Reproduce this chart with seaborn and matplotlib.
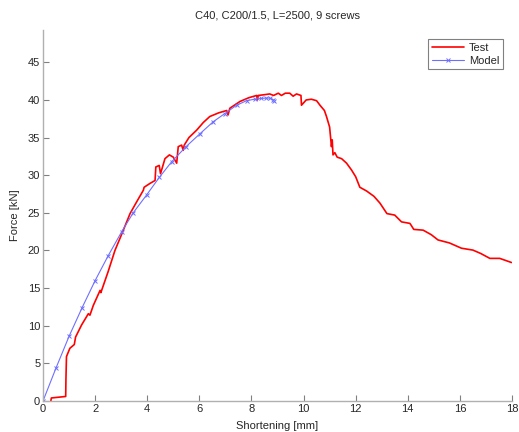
import numpy as np
import pandas as pd
import matplotlib
matplotlib.use("Agg")
import matplotlib.pyplot as plt
import seaborn as sns

# test curve (shortening mm, force kN)
test_x = [0.30, 0.32, 0.87, 0.88, 0.90, 1.03, 1.20, 1.25, 1.48, 1.74, 1.80, 1.93,
          2.19, 2.22, 2.50, 2.76, 3.00, 3.34, 3.60, 3.85, 3.88, 4.10, 4.30, 4.33,
          4.46, 4.51, 4.68, 4.85, 5.00, 5.13, 5.19, 5.32, 5.38, 5.42, 5.60, 5.90,
          6.15, 6.40, 6.75, 7.05, 7.10, 7.17, 7.56, 7.90, 8.20, 8.23, 8.26, 8.50,
          8.70, 8.85, 9.03, 9.15, 9.30, 9.47, 9.60, 9.73, 9.90, 9.92, 10.10, 10.30,
          10.50, 10.63, 10.80, 10.88, 11.00, 11.07, 11.10, 11.13, 11.20, 11.29,
          11.46, 11.65, 11.84, 12.00, 12.16, 12.42, 12.70, 12.93, 13.20, 13.50,
          13.76, 14.08, 14.12, 14.23, 14.59, 14.90, 15.16, 15.60, 16.06, 16.50,
          16.80, 17.15, 17.53, 17.98]
test_y = [0.0, 0.40, 0.60, 3.0, 5.90, 7.00, 7.50, 8.50, 10.10, 11.60, 11.40, 12.70,
          14.70, 14.40, 17.20, 20.00, 22.00, 24.90, 26.50, 28.00, 28.40, 28.90, 29.30,
          31.10, 31.30, 30.20, 32.20, 32.70, 32.40, 31.60, 33.80, 34.00, 33.30, 34.00,
          35.00, 36.00, 37.00, 37.80, 38.30, 38.60, 38.00, 38.90, 39.80, 40.30, 40.60,
          40.00, 40.60, 40.70, 40.80, 40.60, 40.90, 40.60, 40.90, 40.90, 40.50, 40.80,
          40.60, 39.30, 40.00, 40.10, 39.90, 39.30, 38.60, 37.80, 36.40, 33.80, 34.70,
          32.70, 33.00, 32.40, 32.20, 31.60, 30.70, 29.80, 28.40, 27.90, 27.20, 26.30,
          24.90, 24.70, 23.80, 23.60, 23.40, 22.80, 22.70, 22.10, 21.40, 21.00, 20.30,
          20.05, 19.60, 18.95, 18.95, 18.40]

# model curve
model_x = [0.0, 0.50, 1.00, 1.50, 2.00, 2.50, 3.02, 3.46, 3.98, 4.46, 4.94, 5.49,
           6.02, 6.53, 6.98, 7.43, 7.81, 8.12, 8.38, 8.55, 8.70, 8.83, 8.85]
model_y = [0.0, 4.40, 8.60, 12.40, 16.00, 19.30, 22.50, 25.00, 27.40, 29.70, 31.80,
           33.80, 35.50, 37.10, 38.20, 39.30, 39.90, 40.10, 40.20, 40.25, 40.25,
           40.05, 39.90]

test_df = pd.DataFrame({"x": test_x, "y": test_y})
model_df = pd.DataFrame({"x": model_x, "y": model_y})

sns.set_style("white")
plt.rcParams['font.family'] = ['Liberation Sans', 'DejaVu Sans']

fig = plt.figure(figsize=(5.19, 4.32), dpi=100)
ax = fig.add_axes([0.0829, 0.0718, 0.9036, 0.8588])

blue = "#6f6fff"
sns.lineplot(data=test_df, x="x", y="y", sort=False, estimator=None,
             color="#ff0000", linewidth=1.2, label="Test", ax=ax)
sns.lineplot(data=model_df, x="x", y="y", sort=False, estimator=None,
             color=blue, linewidth=0.8, marker="x", markersize=3.3,
             markeredgewidth=0.7, markeredgecolor=blue, label="Model", ax=ax)

ax.set_xlim(0, 18)
ax.set_ylim(0, 49.3)
ax.set_xticks(np.arange(0, 19, 2))
ax.set_yticks(np.arange(0, 46, 5))
ax.set_xlabel("Shortening [mm]", fontsize=8, labelpad=5)
ax.set_ylabel("Force [kN]", fontsize=8, labelpad=6)
ax.set_title("C40, C200/1.5, L=2500, 9 screws", fontsize=8, pad=8)

for s in ["top", "right"]:
    ax.spines[s].set_visible(False)
for s in ["left", "bottom"]:
    ax.spines[s].set_color("#b0b0b0")
    ax.spines[s].set_linewidth(1.0)
ax.tick_params(direction="in", length=4, width=0.8, color="#808080",
               labelsize=8, pad=2, left=True, bottom=True)

leg = ax.legend(loc="upper right", fontsize=8, frameon=True, fancybox=False,
                handlelength=2.9, borderaxespad=0.8, borderpad=0.35,
                labelspacing=0.25, handletextpad=0.4)
leg.get_frame().set_edgecolor("#606060")
leg.get_frame().set_linewidth(0.8)

fig.savefig("out.png", dpi=100)
